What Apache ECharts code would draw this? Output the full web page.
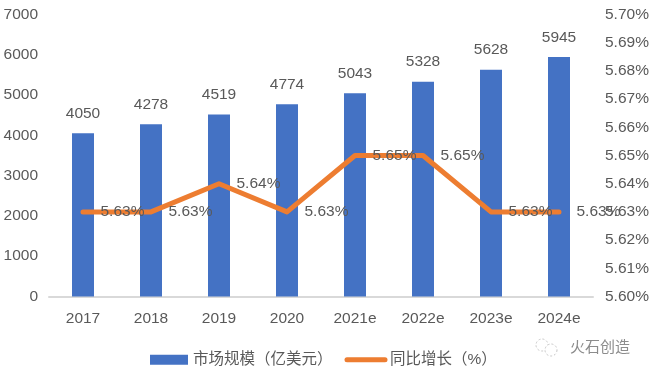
<!DOCTYPE html>
<html>
<head>
<meta charset="utf-8">
<style>html,body{margin:0;padding:0;background:#fff}#main{width:652px;height:376px}</style>
<script src="https://cdn.jsdelivr.net/npm/echarts@6/dist/echarts.min.js"></script>
</head>
<body>
<div id="main"></div>
<script>
var years = ['2017', '2018', '2019', '2020', '2021e', '2022e', '2023e', '2024e'];
var marketSize = [4050, 4278, 4519, 4774, 5043, 5328, 5628, 5945];
var growth = [5.63, 5.63, 5.64, 5.63, 5.65, 5.65, 5.63, 5.63];

var font = '"Liberation Sans", "Noto Sans CJK SC", sans-serif';
var gray = '#595959';

var myChart = echarts.init(document.getElementById('main'));
var option = {
    animation: false,
    textStyle: {fontFamily: font},
    grid: {left: 49, right: 59, top: 14.5, bottom: 79.5, outerBoundsMode: 'none'},
    legend: {
        left: 145, top: 347, itemWidth: 38, itemHeight: 10, itemGap: 12,
        textStyle: {fontSize: 15.5, color: gray, fontFamily: font},
        data: [
            {name: '市场规模（亿美元）', icon: 'rect'},
            {name: '同比增长（%）', itemStyle: {opacity: 0}, lineStyle: {width: 5, cap: 'round', color: '#ed7d31'}}
        ]
    },
    xAxis: {
        type: 'category',
        data: years,
        axisTick: {show: false},
        axisLine: {lineStyle: {color: '#d9d9d9', width: 2}},
        axisLabel: {color: gray, fontSize: 15.5, margin: 14}
    },
    yAxis: [{
        type: 'value', min: 0, max: 7000, interval: 1000,
        splitLine: {show: false},
        axisLabel: {
            color: gray, fontSize: 15.5, margin: 11,
            formatter: function (v) { return String(v); }
        }
    }, {
        type: 'value', min: 5.6, max: 5.7, interval: 0.01,
        splitLine: {show: false},
        axisLabel: {
            color: gray, fontSize: 15.5, margin: 12,
            formatter: function (v) { return v.toFixed(2) + '%'; }
        }
    }],
    series: [{
        name: '市场规模（亿美元）',
        type: 'bar',
        data: marketSize,
        barWidth: 22,
        itemStyle: {color: '#4472c4'},
        label: {show: true, position: 'top', distance: 12, color: gray, fontSize: 15.5}
    }, {
        name: '同比增长（%）',
        type: 'line',
        yAxisIndex: 1,
        data: growth,
        symbol: 'circle',
        symbolSize: 1,
        lineStyle: {color: '#ed7d31', width: 5, cap: 'round', join: 'round'},
        itemStyle: {color: '#ed7d31'},
        label: {
            show: true, position: 'right', distance: 17, color: gray, fontSize: 15.5,
            formatter: function (p) { return p.value.toFixed(2) + '%'; }
        }
    }],
    graphic: [{
        type: 'text', left: 570, top: 339,
        style: {text: '火石创造', fill: '#8c8c8c', font: '15px "Noto Sans CJK SC"'}
    }, {
        type: 'circle', shape: {cx: 542, cy: 345, r: 6},
        style: {fill: 'none', stroke: '#c4c4c4', lineWidth: 1, lineDash: [2, 2]}
    }, {
        type: 'circle', shape: {cx: 551, cy: 350, r: 6},
        style: {fill: '#fff', stroke: '#c4c4c4', lineWidth: 1, lineDash: [2, 2]}
    }]
};
myChart.setOption(option);
</script>
</body>
</html>
